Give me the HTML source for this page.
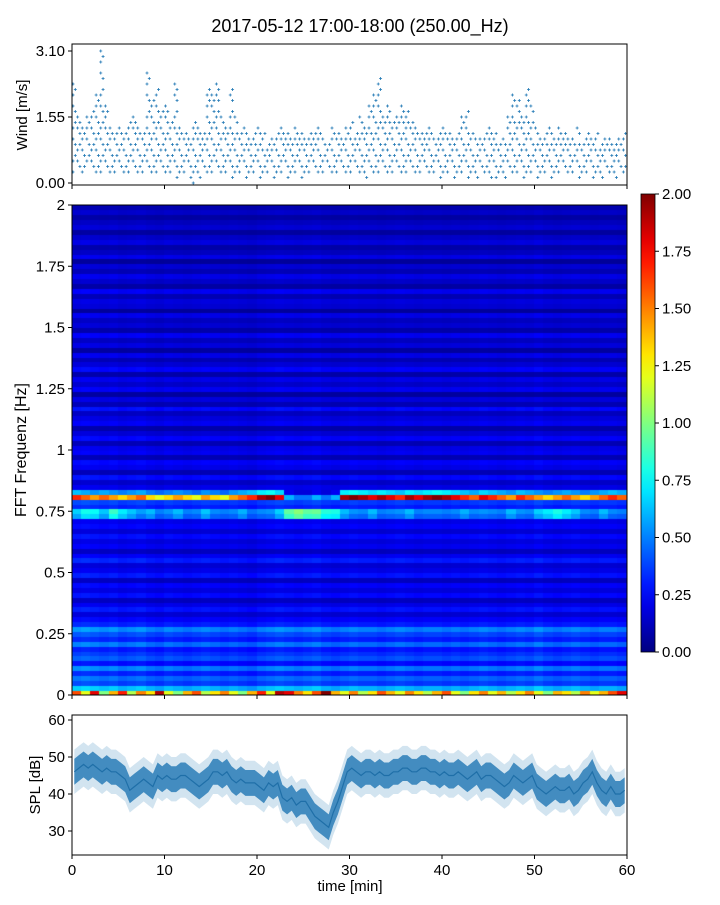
<!DOCTYPE html>
<html><head><meta charset="utf-8"><style>
body{margin:0;background:#fff;}
svg text{font-family:"Liberation Sans","DejaVu Sans",sans-serif;fill:#000;}
</style></head><body>
<svg id="root" width="720" height="900" viewBox="0 0 720 900" xmlns="http://www.w3.org/2000/svg">
<text x="360" y="32" font-size="18" text-anchor="middle">2017-05-12 17:00-18:00 (250.00_Hz)</text>
<g id="wind"></g>
<g id="spec">
<foreignObject x="72" y="205" width="555" height="490"><canvas xmlns="http://www.w3.org/1999/xhtml" id="cv" width="555" height="490" style="display:block"></canvas></foreignObject>
</g>
<g id="cbar"></g>
<g id="spl"></g>
</svg>
<script>
const windHi=[18,12,10,12,13,16,24,14,10,9,10,9,11,12,10,9,20,15,17,13,14,11,18,10,9,8,11,10,9,17,16,18,12,10,17,12,9,10,8,9,10,9,7,8,9,10,9,8,10,9,8,9,9,10,8,7,10,9,8,10,11,9,12,10,14,16,19,12,14,11,12,14,13,11,10,9,9,10,8,9,10,9,8,9,12,13,9,8,8,9,10,9,7,8,12,16,15,12,17,14,10,8,9,10,8,10,9,8,8,10,7,9,8,9,7,8,8,7,8,9];
const windLo=[2,2,2,3,2,2,2,2,1,2,2,1,2,2,1,2,2,2,2,3,2,2,1,2,2,1,0,1,2,1,2,2,2,2,1,2,2,1,2,2,1,2,2,1,2,2,1,2,2,1,1,2,2,1,2,2,1,2,2,1,2,2,2,1,2,2,2,2,1,2,2,1,2,2,1,2,2,1,2,1,2,2,1,2,2,1,2,1,2,2,1,1,2,1,2,2,2,1,2,2,1,2,2,1,1,2,2,1,2,1,2,2,1,2,1,2,2,1,2,1];
const splMean=[46,47,48,47,48,47,46,47,46,46,45,44,41,42,43,44,43,42,45,44,45,44,44,45,45,44,43,42,43,44,46,46,45,46,44,43,44,43,43,43,42,41,43,42,43,39,38,39,37,38,38,36,34,33,32,31,35,38,42,46,47,46,45,46,46,45,46,45,45,46,46,47,47,46,46,47,47,46,46,45,46,45,45,46,45,44,45,46,44,45,45,44,43,42,43,45,44,43,44,45,42,41,40,41,42,41,41,42,40,41,43,44,46,43,41,40,42,40,40,41];
const rowProfile=[120,60,36,44,30,48,26,40,34,28,46,30,38,50,30,24,16,28,20,12,26,18,24,12,28,20,16,30,22,12,22,18,26,16,24,20,34,42,30,36,120,45,20,14,26,10,20,24,10,22,20,10,24,16,8,22,18,12,26,10,18,6,22,14,20,8,24,16,10,20,6,18,12,22,8,16,12,20,5,16,18,10,22,7,14,20,10,16,5,20,12,8,18,14,6,16,12,7,14,9];
const colFactor=[1.1,1.15,1.1,1.05,1.1,1.0,1.05,1.1,1.0,0.95,1.05,1.0,0.95,1.0,1.05,1.0,0.95,1.0,0.95,0.9,1.0,1.05,1.1,1.05,1.0,1.05,1.1,1.0,0.95,1.0,1.05,1.0,1.0,0.95,1.0,1.05,1.0,0.95,1.0,1.0,0.95,1.0,0.95,1.0,1.05,1.0,0.95,1.0,1.05,1.0,1.1,1.0,0.95,1.0,1.05,1.0,0.95,1.0,1.0,0.95];
const bandStrength=[1.4,1.3,1.2,1.3,1.2,1.1,1.2,1.3,1.1,1.0,1.1,1.2,1.1,1.0,1.2,1.1,1.0,1.2,1.3,1.4,1.6,1.7,1.5,0.5,0.4,0.4,0.5,0.4,0.5,1.6,1.7,1.6,1.5,1.6,1.5,1.4,1.6,1.5,1.6,1.7,1.6,1.5,1.4,1.3,1.5,1.4,1.3,1.2,1.4,1.3,1.2,1.1,1.2,1.3,1.2,1.1,1.2,1.3,1.4,1.3];
const lowBoost=[0.2,0.3,0.3,0.2,0.4,0.3,0.2,0.1,0.2,0.1,0.1,0.2,0.1,0.1,0.2,0.1,0.1,0.1,0.2,0.1,0.1,0.1,0.2,0.5,0.6,0.5,0.5,0.4,0.4,0.2,0.1,0.1,0.2,0.1,0.1,0.1,0.2,0.1,0.1,0.1,0.1,0.1,0.2,0.1,0.1,0.1,0.1,0.2,0.1,0.1,0.2,0.3,0.4,0.3,0.2,0.1,0.1,0.2,0.1,0.1];
const bottomArr=[1.6,1.2,1.8,1.0,1.4,1.7,1.1,1.5,1.3,1.9,1.2,1.0,1.4,1.6,1.1,1.3,1.5,1.2,1.0,1.4,1.7,1.2,1.9,1.8,1.5,1.3,1.6,2.0,1.4,1.2,1.5,1.1,1.3,1.6,1.4,1.2,1.5,1.3,1.1,1.4,1.6,1.2,1.0,1.3,1.5,1.2,1.4,1.1,1.3,1.5,1.2,1.0,1.4,1.3,1.1,1.5,1.2,1.4,1.6,1.8];
const xTicks=[0,10,20,30,40,50,60];
const windTicks=[0,1.55,3.10];
const freqTicks=[0,0.25,0.5,0.75,1,1.25,1.5,1.75,2];
const freqLabels=["0","0.25","0.5","0.75","1","1.25","1.5","1.75","2"];
const cbTicks=[0,0.25,0.5,0.75,1,1.25,1.5,1.75,2];
const splTicks=[30,40,50,60];

const NS="http://www.w3.org/2000/svg";
function mk(p,t,a){const e=document.createElementNS(NS,t);for(const k in a)e.setAttribute(k,a[k]);p.appendChild(e);return e;}
const X0=72,X1=627;
const xs=m=>X0+(m/60)*(X1-X0);
function jet(v){v=Math.max(0,Math.min(1,v));
 const r=Math.max(0,Math.min(1,1.5-Math.abs(4*v-3))),g=Math.max(0,Math.min(1,1.5-Math.abs(4*v-2))),b=Math.max(0,Math.min(1,1.5-Math.abs(4*v-1)));
 return `rgb(${Math.round(r*255)},${Math.round(g*255)},${Math.round(b*255)})`;}
function xAxis(g,yb,labels){
 xTicks.forEach(t=>{const l=mk(g,'line',{x1:xs(t),x2:xs(t),y1:yb,y2:yb+4,stroke:'#000','stroke-width':1});
 
 if(labels){const tx=mk(g,'text',{x:xs(t),y:yb+20,'font-size':15,'text-anchor':'middle'});tx.textContent=t;
 }});
}
// Wind panel
const wg=document.getElementById('wind');
const WT=44,WB=185,wy=v=>183-(v/3.10)*132;
for(let i=0;i<windHi.length;i++){
 for(let L=windLo[i];L<=windHi[i];L++){
  if(L<windHi[i]-1 && (L+i)%3===0) continue;
  const sub=(L%2)*2.3;const x=xs(i*0.5)+sub+1,y=wy(L*3.10/24);
  const p=mk(wg,'path',{d:`M${x-1.5},${y}h3M${x},${y-1.5}v3`,stroke:'#1f77b4','stroke-width':0.8});
  
 }}
const wf=mk(wg,'rect',{x:X0,y:WT,width:X1-X0,height:WB-WT,fill:'none',stroke:'#000','stroke-width':1});

windTicks.forEach(t=>{mk(wg,'line',{x1:X0-4,x2:X0,y1:wy(t),y2:wy(t),stroke:'#000'});
 const tx=mk(wg,'text',{x:X0-7,y:wy(t)+5,'font-size':15,'text-anchor':'end'});tx.textContent=t.toFixed(2);
 });
xAxis(wg,WB,false);
const wl=mk(wg,'text',{transform:'translate(27,115) rotate(-90)','font-size':15,'text-anchor':'middle'});wl.textContent='Wind [m/s]';


// Spectrogram
const SG=document.getElementById('spec');const ST=205,SB=695;
const ctx=document.getElementById('cv').getContext('2d');
const nc=colFactor.length,nr=rowProfile.length,cw=555/nc,rh=490/nr;
for(let c=0;c<nc;c++)for(let r=0;r<nr;r++){
 let v=rowProfile[r]/100*colFactor[c];
 if(r===40||r===41)v=rowProfile[r]/100*bandStrength[c];
 if(r>=36&&r<=37)v+=lowBoost[c];
 if(r===0)v=bottomArr[c]*rowProfile[r]/120;
 ctx.fillStyle=jet(v/2);
 ctx.fillRect(Math.floor(c*cw),Math.floor(490-(r+1)*rh),Math.ceil(cw)+1,Math.ceil(rh)+1);
}
const fy=f=>SB-(f/2)*(SB-ST);
const sf=mk(SG,'rect',{x:X0,y:ST,width:X1-X0,height:SB-ST,fill:'none',stroke:'#000'});

freqTicks.forEach((t,i)=>{mk(SG,'line',{x1:X0-4,x2:X0,y1:fy(t),y2:fy(t),stroke:'#000'});
 const tx=mk(SG,'text',{x:X0-7,y:fy(t)+5,'font-size':15,'text-anchor':'end'});tx.textContent=freqLabels[i];
 });
xAxis(SG,SB,false);
const fl=mk(SG,'text',{transform:'translate(26,450) rotate(-90)','font-size':16,'text-anchor':'middle'});fl.textContent='FFT Frequenz [Hz]';


// Colorbar
const cb=document.getElementById('cbar');const CT=194,CB=652,CX=641,CW=14;
const defs=mk(cb,'defs',{});const lg=mk(defs,'linearGradient',{id:'jg',x1:0,y1:1,x2:0,y2:0});
for(let i=0;i<=20;i++)mk(lg,'stop',{offset:i/20,'stop-color':jet(i/20)});
const cr=mk(cb,'rect',{x:CX,y:CT,width:CW,height:CB-CT,fill:'url(#jg)',stroke:'#000','stroke-width':0.8});

cbTicks.forEach(t=>{const y=CB-(t/2)*(CB-CT);mk(cb,'line',{x1:CX+CW,x2:CX+CW+4,y1:y,y2:y,stroke:'#000'});
 const tx=mk(cb,'text',{x:CX+CW+7,y:y+5,'font-size':15});tx.textContent=t.toFixed(2);
 });

// SPL
const pg=document.getElementById('spl');const PT=715,PB=855;
const py=v=>720+(60-v)*3.7;
function band(w,fill,op,name){let d='';
 splMean.forEach((m,i)=>{d+=(i?'L':'M')+xs(i*0.5+0.25).toFixed(1)+','+py(m+w).toFixed(1);});
 for(let i=splMean.length-1;i>=0;i--)d+='L'+xs(i*0.5+0.25).toFixed(1)+','+py(splMean[i]-w).toFixed(1);
 const p=mk(pg,'path',{d:d+'Z',fill:fill,'fill-opacity':op});
 }
band(6,'#1f77b4',0.2,'spl-outer-band');
band(3.5,'#1f77b4',0.8,'spl-inner-band');
let ld='';splMean.forEach((m,i)=>{ld+=(i?'L':'M')+xs(i*0.5+0.25).toFixed(1)+','+py(m).toFixed(1);});
const sl=mk(pg,'path',{d:ld,fill:'none',stroke:'#1f6fa8','stroke-width':1.2});

const pf=mk(pg,'rect',{x:X0,y:PT,width:X1-X0,height:PB-PT,fill:'none',stroke:'#000'});

splTicks.forEach(t=>{mk(pg,'line',{x1:X0-4,x2:X0,y1:py(t),y2:py(t),stroke:'#000'});
 const tx=mk(pg,'text',{x:X0-7,y:py(t)+5,'font-size':15,'text-anchor':'end'});tx.textContent=t;
 });
xAxis(pg,PB,true);
const sy=mk(pg,'text',{transform:'translate(40,785) rotate(-90)','font-size':15,'text-anchor':'middle'});sy.textContent='SPL [dB]';

const xl=mk(pg,'text',{x:350,y:891,'font-size':15,'text-anchor':'middle'});xl.textContent='time [min]';

</script>
</body></html>
